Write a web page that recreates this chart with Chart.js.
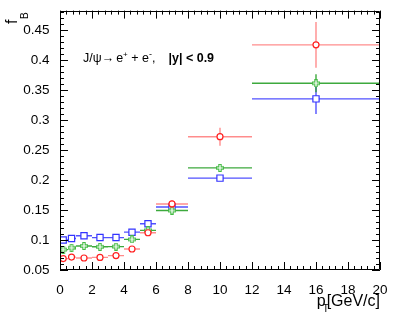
<!DOCTYPE html>
<html>
<head>
<meta charset="utf-8">
<script src="https://cdn.jsdelivr.net/npm/chart.js@4/dist/chart.umd.min.js"></script>
<style>
  html, body { margin: 0; padding: 0; background: #fff; }
  #wrap { width: 407px; height: 313px; }
</style>
</head>
<body>
<div id="wrap"><canvas id="chart" width="407" height="313"></canvas></div>
<script>
// pT bins (GeV/c)
const ptCenter = [0.2, 0.72, 1.5, 2.5, 3.5, 4.5, 5.5, 7, 10, 16]
const ptLow = [0, 0.5, 1, 2, 3, 4, 5, 6, 8, 12]
const ptHigh = [0.5, 1, 2, 3, 4, 5, 6, 8, 12, 20]

// f_B values
const redValues = [0.069, 0.0715, 0.070, 0.071, 0.074, 0.085, 0.112, 0.160, 0.272, 0.425]
const redErrors = [0.003, 0.003, 0.003, 0.003, 0.003, 0.003, 0.004, 0.006, 0.015, 0.038]
const greenValues = [0.084, 0.087, 0.090, 0.0886, 0.089, 0.101, 0.116, 0.149, 0.220, 0.361]
const greenErrors = [0.002, 0.002, 0.002, 0.002, 0.002, 0.003, 0.003, 0.004, 0.005, 0.015]
const blueValues = [0.100, 0.1025, 0.107, 0.104, 0.104, 0.113, 0.127, 0.155, 0.203, 0.335]
const blueErrors = [0.002, 0.002, 0.002, 0.002, 0.002, 0.003, 0.003, 0.004, 0.004, 0.025]

const xTickVals = [0, 2, 4, 6, 8, 10, 12, 14, 16, 18, 20]
const yTickVals = [0.05, 0.1, 0.15, 0.2, 0.25, 0.3, 0.35, 0.4, 0.45]

const FONT = '"Liberation Sans", Arial, Helvetica, sans-serif'

function toPoints(values) {
  return values.map((v, i) => ({ x: ptCenter[i], y: v }))
}

// ROOT style open cross marker
function openCross(color) {
  const c = document.createElement('canvas')
  c.width = 8
  c.height = 8
  const g = c.getContext('2d')
  const a = 0.5, s = 7 / 3
  const pts = [[1,0],[2,0],[2,1],[3,1],[3,2],[2,2],[2,3],[1,3],[1,2],[0,2],[0,1],[1,1]]
  g.beginPath()
  pts.forEach((p, i) => {
    const px = a + p[0] * s, py = a + p[1] * s
    if (i === 0) g.moveTo(px, py)
    else g.lineTo(px, py)
  })
  g.closePath()
  g.fillStyle = '#fff'
  g.fill()
  g.strokeStyle = color
  g.lineWidth = 1.1
  g.stroke()
  return c
}

const errorBars = {
  id: 'errorBars',
  beforeDatasetDraw(chart, args) {
    const ds = chart.data.datasets[args.index]
    const xs = chart.scales.x, ys = chart.scales.y
    const ctx = chart.ctx
    ctx.save()
    ctx.strokeStyle = ds.barColor
    ctx.lineWidth = 1.4
    ds.data.forEach((p, i) => {
      const px = xs.getPixelForValue(p.x)
      const py = ys.getPixelForValue(p.y)
      ctx.beginPath()
      ctx.moveTo(xs.getPixelForValue(ptLow[i]), py)
      ctx.lineTo(xs.getPixelForValue(ptHigh[i]), py)
      ctx.moveTo(px, ys.getPixelForValue(p.y - ds.yErr[i]))
      ctx.lineTo(px, ys.getPixelForValue(p.y + ds.yErr[i]))
      ctx.stroke()
    })
    ctx.restore()
  }
}

const rootFrame = {
  id: 'rootFrame',
  afterDraw(chart) {
    const ctx = chart.ctx
    const a = chart.chartArea
    const xs = chart.scales.x, ys = chart.scales.y
    ctx.save()
    ctx.strokeStyle = '#000'
    ctx.lineWidth = 1
    ctx.beginPath()
    ctx.rect(Math.round(a.left) + 0.5, Math.round(a.top) + 0.5,
      Math.round(a.right - a.left) - 1, Math.round(a.bottom - a.top) - 1)
    ctx.stroke()

    ctx.beginPath()
    for (let k = 0; k <= 50; k++) {
      const v = k * 0.4
      const len = k % 5 === 0 ? 8 : 4
      const px = Math.round(xs.getPixelForValue(v)) + 0.5
      ctx.moveTo(px, a.bottom)
      ctx.lineTo(px, a.bottom - len)
      ctx.moveTo(px, a.top)
      ctx.lineTo(px, a.top + len)
    }
    for (let k = 0; k <= 43; k++) {
      const v = 0.05 + k * 0.01
      const len = k % 5 === 0 ? 8 : 4
      const py = Math.round(ys.getPixelForValue(v)) + 0.5
      ctx.moveTo(a.left, py)
      ctx.lineTo(a.left + len, py)
      ctx.moveTo(a.right, py)
      ctx.lineTo(a.right - len, py)
    }
    ctx.stroke()

    ctx.fillStyle = '#000'
    ctx.textBaseline = 'alphabetic'
    ctx.textAlign = 'left'

    // y title f_B, rotated
    ctx.save()
    ctx.translate(17, 24)
    ctx.rotate(-Math.PI / 2)
    ctx.font = '16px ' + FONT
    ctx.fillText('f', 0, 0)
    const fw = ctx.measureText('f').width
    ctx.font = '10px ' + FONT
    ctx.fillText('B', fw + 0.5, 11)
    ctx.restore()

    // x title p_T[GeV/c]
    ctx.font = '16px ' + FONT
    const unit = '[GeV/c]'
    const uw = ctx.measureText(unit).width
    const ux = a.right - uw
    ctx.fillText(unit, ux, 306)
    ctx.fillText('p', ux - 10, 306)
    ctx.font = '10px ' + FONT
    ctx.fillText('T', ux - 4, 312)

    // annotation
    let x = 83
    const base = 61.5
    const put = (txt, font, dy) => {
      ctx.font = font
      ctx.fillText(txt, x, base + dy)
      x += ctx.measureText(txt).width
    }
    put('J/\u03c8\u2192', '12.5px ' + FONT, 0)
    x += 2
    put('e', '12.5px ' + FONT, 0)
    put('+', '8px ' + FONT, -4.5)
    put(' + e', '12.5px ' + FONT, 0)
    put('-', '9px ' + FONT, -4.5)
    put(',', '12.5px ' + FONT, 0)
    ctx.font = 'bold 12.5px ' + FONT
    ctx.fillText('|y| < 0.9', 168.5, base)
    ctx.restore()
  }
}

new Chart(document.getElementById('chart'), {
  type: 'scatter',
  data: {
    datasets: [{
      data: toPoints(redValues),
      yErr: redErrors,
      barColor: 'rgba(255, 0, 0, 0.45)',
      pointStyle: 'circle',
      pointRadius: 3,
      pointBorderWidth: 1.2,
      pointBorderColor: '#ff2020',
      pointBackgroundColor: '#fff'
    }, {
      data: toPoints(greenValues),
      yErr: greenErrors,
      barColor: 'rgba(40, 160, 40, 0.9)',
      pointStyle: openCross('#44bb44'),
      pointRadius: 4
    }, {
      data: toPoints(blueValues),
      yErr: blueErrors,
      barColor: 'rgba(50, 50, 255, 0.85)',
      pointStyle: 'rect',
      pointRadius: 4.4,
      pointBorderWidth: 1.2,
      pointBorderColor: '#3333ff',
      pointBackgroundColor: '#fff'
    }]
  },
  options: {
    responsive: false,
    animation: false,
    layout: { padding: { top: 9, right: 27, left: 0, bottom: 0 } },
    plugins: { legend: { display: false }, tooltip: { enabled: false } },
    scales: {
      x: {
        type: 'linear',
        min: 0,
        max: 20,
        grid: { display: false },
        border: { display: false },
        afterBuildTicks: (s) => { s.ticks = xTickVals.map(v => ({ value: v })) },
        afterFit: (s) => { s.height = 43 },
        ticks: {
          color: '#000',
          padding: 4,
          maxRotation: 0,
          font: { family: FONT, size: 13.5 },
          callback: (v) => String(v)
        }
      },
      y: {
        type: 'linear',
        min: 0.05,
        max: 0.482,
        grid: { display: false },
        border: { display: false },
        afterBuildTicks: (s) => { s.ticks = yTickVals.map(v => ({ value: v })) },
        afterFit: (s) => { s.width = 60 },
        ticks: {
          color: '#000',
          padding: 2.5,
          font: { family: FONT, size: 13.5 },
          callback: (v) => String(Number(v.toFixed(2)))
        }
      }
    }
  },
  plugins: [errorBars, rootFrame]
})
</script>
</body>
</html>
